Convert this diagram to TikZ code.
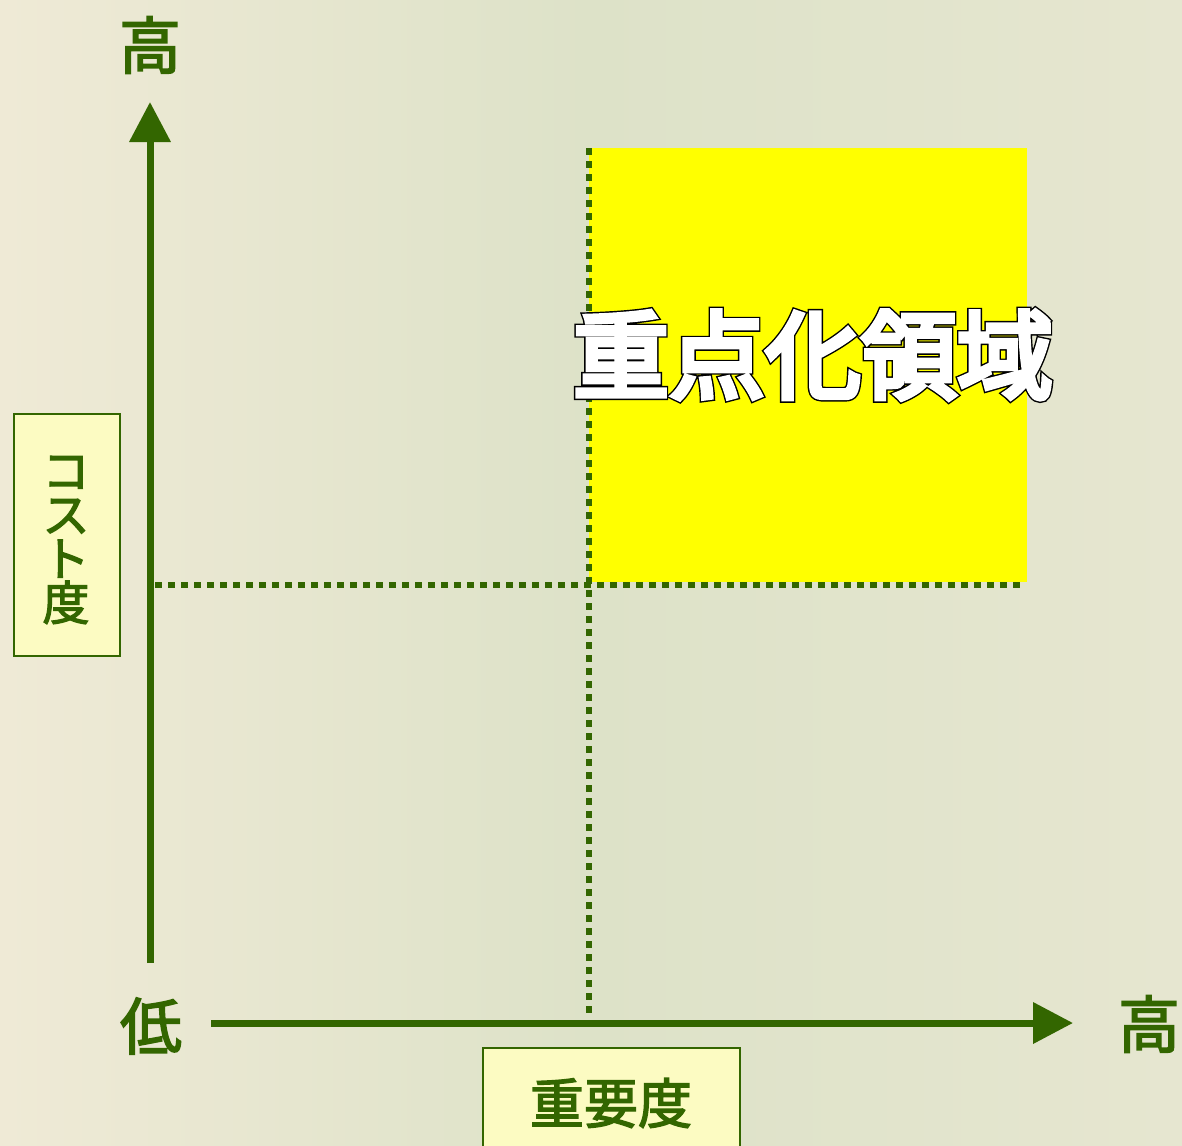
\documentclass[tikz,border=0pt]{standalone}
\usepackage{fontspec}
\usetikzlibrary{arrows.meta}
\newfontfamily\cjk{Noto Sans CJK JP}[FakeBold=2.5]
\newfontfamily\cjkout{Noto Sans CJK JP}[FakeBold=8.5]
\newfontfamily\cjkin{Noto Sans CJK JP}[FakeBold=5.5]
\definecolor{axisgreen}{HTML}{336600}
\definecolor{labelfill}{HTML}{FCFBC2}
\definecolor{focusyellow}{HTML}{FFFF00}
\definecolor{bgmid}{HTML}{DDE2C8}
\definecolor{bgleft}{HTML}{EFEAD6}
\definecolor{bgright}{HTML}{E6E6D0}
\tikzset{
  axis/.style={draw=axisgreen, line width=7pt, -{Triangle[length=40pt,width=40pt]}},
  guide/.style={draw=axisgreen, line width=6pt, dash pattern=on 7pt off 6pt},
  axislabel/.style={text=axisgreen, font=\cjk\fontsize{62}{64}\selectfont, inner sep=0pt},
  labelbox/.style={draw=axisgreen, line width=2pt, fill=labelfill, inner sep=0pt},
  labeltext/.style={text=axisgreen, inner sep=0pt, align=center}
}
\begin{document}
\begin{tikzpicture}[x=1pt,y=-1pt]
  % background
  \shade[left color=bgleft, right color=bgright, middle color=bgmid] (0,0) rectangle (1182,1145);
  \useasboundingbox (0,0) rectangle (1182,1145);
  % highlighted quadrant
  \fill[focusyellow] (589,148) rectangle (1027,582);
  % coordinates
  \coordinate (vstart) at (150,963);
  \coordinate (vend) at (150,102);
  \coordinate (hstart) at (211,1023);
  \coordinate (hend) at (1073,1023);
  \coordinate (gvtop) at (589,148);
  \coordinate (gvbot) at (589,1018);
  \coordinate (ghl) at (155,585);
  \coordinate (ghr) at (1022,585);
  % guide lines
  \draw[guide] (gvtop) -- (gvbot);
  \draw[guide] (ghl) -- (ghr);
  % axes
  \draw[axis] (vstart) -- (vend);
  \draw[axis] (hstart) -- (hend);
  % axis end labels
  \node[axislabel] (ytop) at (150,45) {高};
  \node[axislabel] (xright) at (1149,1024) {高};
  \node[axislabel] (low) at (151,1026) {低};
  % label boxes
  \path[labelbox] (14,414) rectangle (120,656);
  \node[labeltext, font=\cjk\fontsize{47}{44}\selectfont] (ylabel) at (66,540) {コ\\ス\\ト\\度};
  \path[labelbox] (483,1048) rectangle (740,1160);
  \node[labeltext, font=\cjk\fontsize{54}{56}\selectfont] (xlabel) at (611,1103) {重要度};
  % focus area title
  \node[inner sep=0pt, text=black, font=\cjkout\fontsize{96}{98}\selectfont] (focusout) at (813,355) {重点化領域};
  \node[inner sep=0pt, text=white, font=\cjkin\fontsize{96}{98}\selectfont] (focus) at (813,355) {重点化領域};
\end{tikzpicture}
\end{document}
